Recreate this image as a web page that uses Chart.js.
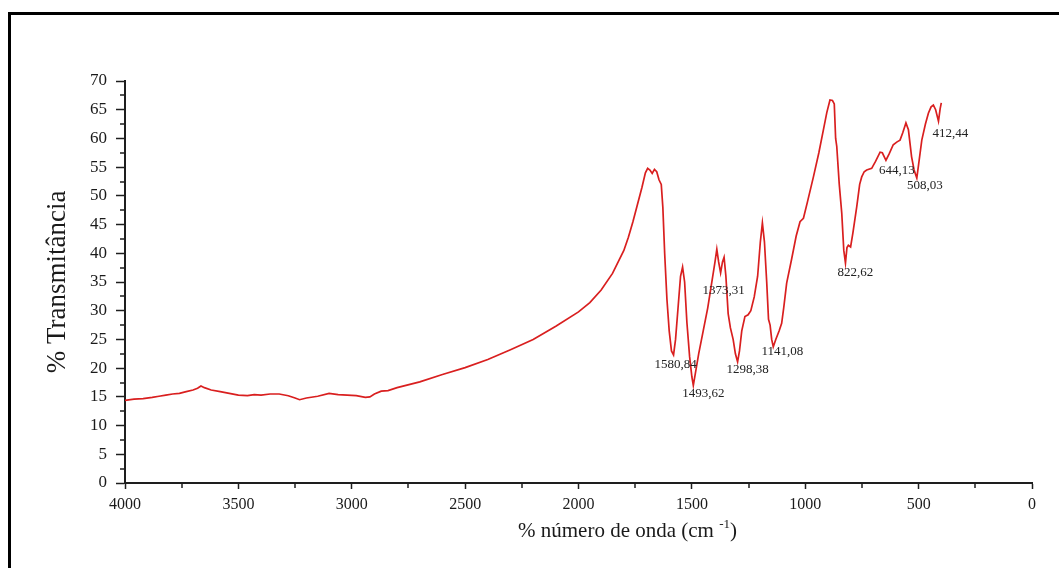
<!DOCTYPE html>
<html>
<head>
<meta charset="utf-8">
<script src="https://cdn.jsdelivr.net/npm/chart.js@4.4.1/dist/chart.umd.min.js"></script>
<style>
  html, body { margin: 0; padding: 0; background: #fff; overflow: hidden; }
  #wrap { position: relative; width: 1059px; height: 568px; overflow: hidden; }
  #frame { position: absolute; left: 8px; top: 12px; width: 1100px; height: 600px;
           border-left: 3px solid #000; border-top: 3px solid #000; }
  canvas { position: absolute; left: 0; top: 0; }
</style>
</head>
<body>
<div id="wrap">
  <div id="frame"></div>
  <canvas id="ftir" width="1059" height="568"></canvas>
</div>
<script>
// FTIR spectrum: wavenumber (cm-1) and % transmittance
const wavenumbers = [
  4000, 3960, 3920, 3880, 3850, 3820, 3790, 3760, 3730, 3700, 3680, 3665, 3650, 3620, 3580,
  3540, 3500, 3460, 3430, 3400, 3360, 3320, 3280, 3250, 3230, 3200, 3150, 3100, 3060, 3020,
  2980, 2940, 2920, 2900, 2870, 2840, 2800, 2700, 2600, 2500, 2400, 2300, 2200, 2100, 2000,
  1950, 1900, 1850, 1800, 1780, 1760, 1740, 1720, 1705, 1695, 1685, 1675, 1665, 1655, 1645,
  1635, 1628, 1620, 1610, 1600, 1590, 1580.84, 1572, 1560, 1550, 1541, 1532, 1522, 1510, 1500,
  1493.62, 1485, 1470, 1450, 1430, 1410, 1398, 1390, 1382, 1373.31, 1365, 1358, 1350, 1340, 1330,
  1318, 1308, 1298.38, 1290, 1280, 1266, 1252, 1240, 1225, 1210, 1198, 1189, 1180, 1170, 1162,
  1155, 1148, 1141.08, 1130, 1115, 1104, 1095, 1082, 1060, 1040, 1023, 1008, 990, 964, 940,
  920, 905, 891, 880, 872, 866, 861, 850, 839, 830, 822.62, 816, 810, 800, 790,
  773, 760, 751, 740, 729, 707, 690, 670, 660, 644.13, 630, 612, 595, 582, 570,
  556, 545, 531, 520, 508.03, 500, 486, 470, 457, 445, 435, 425, 412.44, 405, 400
];
const transmittance = [
  14.4, 14.6, 14.7, 14.9, 15.1, 15.3, 15.5, 15.6, 15.9, 16.2, 16.5, 16.9, 16.6, 16.2, 15.9,
  15.6, 15.3, 15.2, 15.4, 15.3, 15.5, 15.5, 15.2, 14.8, 14.5, 14.8, 15.1, 15.6, 15.4, 15.3,
  15.2, 14.9, 15.0, 15.5, 16.0, 16.1, 16.6, 17.6, 18.9, 20.1, 21.5, 23.2, 25.0, 27.3, 29.8,
  31.4, 33.6, 36.5, 40.5, 42.8, 45.5, 48.5, 51.5, 54.0, 54.8, 54.5, 53.9, 54.6, 54.2, 52.8,
  52.0, 48.0, 40.0, 32.0, 26.5, 23.0, 22.3, 25.0, 31.0, 36.0, 37.6, 35.0, 28.0, 22.0, 18.5,
  17.0, 19.0, 22.5, 26.5, 30.5, 35.5, 38.5, 40.7, 38.5, 36.6, 38.5, 39.3, 36.0, 29.5, 27.0,
  25.0, 22.5, 21.1, 23.0, 26.5, 29.0, 29.3, 30.0, 32.4, 36.0, 42.0, 45.3, 42.0, 35.0, 28.5,
  27.5, 25.0, 23.7, 25.0, 26.5, 27.8, 30.5, 34.8, 39.0, 43.0, 45.5, 46.1, 49.0, 53.3, 57.5,
  61.5, 64.5, 66.7, 66.6, 66.0, 60.0, 58.6, 52.0, 47.0, 40.5, 38.3, 41.0, 41.4, 41.1, 43.5,
  48.1, 52.0, 53.3, 54.2, 54.5, 54.8, 56.0, 57.6, 57.5, 56.2, 57.3, 58.9, 59.4, 59.7, 61.0,
  62.7, 61.5, 56.8, 54.5, 53.1, 55.5, 59.7, 62.5, 64.4, 65.5, 65.8, 65.0, 63.0, 65.2, 66.2
];

// Band positions marked on the spectrum
const peakWavenumbers = [1580.84, 1493.62, 1373.31, 1298.38, 1141.08, 822.62, 644.13, 508.03, 412.44];
const peakLabels = ['1580,84', '1493,62', '1373,31', '1298,38', '1141,08', '822,62', '644,13', '508,03', '412,44'];

// Axis ranges and steps
const xRange = [0, 4000];
const xMajorStep = 500;
const yRange = [0, 70];
const yMajorStep = 5;

const SERIF = '"Liberation Serif", "Times New Roman", serif';
const AXIS_COLOR = '#1e1e1e';

// Minor tick marks halfway between the labelled ticks
const minorTicks = {
  id: 'minorTicks',
  afterDraw(chart) {
    const { ctx, scales: { x, y } } = chart;
    ctx.save();
    ctx.strokeStyle = AXIS_COLOR;
    ctx.lineWidth = 1.5;
    ctx.beginPath();
    for (let v = xRange[0] + xMajorStep / 2; v < xRange[1]; v += xMajorStep) {
      const px = Math.round(x.getPixelForValue(v));
      ctx.moveTo(px, x.top);
      ctx.lineTo(px, x.top + 5);
    }
    for (let v = yRange[0] + yMajorStep / 2; v < yRange[1]; v += yMajorStep) {
      const py = Math.round(y.getPixelForValue(v));
      ctx.moveTo(y.right - 5, py);
      ctx.lineTo(y.right, py);
    }
    ctx.stroke();
    ctx.restore();
  }
};

// Band labels placed just under each marked minimum
const bandLabels = {
  id: 'bandLabels',
  afterDatasetsDraw(chart, args, opts) {
    const { ctx, scales: { x, y } } = chart;
    ctx.save();
    ctx.font = `13px ${SERIF}`;
    ctx.fillStyle = '#222';
    ctx.textAlign = 'center';
    ctx.textBaseline = 'middle';
    peakWavenumbers.forEach((wn, i) => {
      const idx = wavenumbers.indexOf(wn);
      const px = x.getPixelForValue(wn);
      const py = y.getPixelForValue(transmittance[idx]);
      const [dx, dy] = opts.offsets[i];
      ctx.fillText(peakLabels[i], px + dx, py + dy);
    });
    ctx.restore();
  }
};

// x-axis title with superscript exponent
const xAxisTitle = {
  id: 'xAxisTitle',
  afterDraw(chart) {
    const { ctx, scales: { x } } = chart;
    const main = '% número de onda (cm ';
    const sup = '-1';
    const close = ')';
    ctx.save();
    ctx.fillStyle = '#1a1a1a';
    ctx.textBaseline = 'alphabetic';
    ctx.font = `21px ${SERIF}`;
    const wMain = ctx.measureText(main).width;
    const wClose = ctx.measureText(close).width;
    ctx.font = `13px ${SERIF}`;
    const wSup = ctx.measureText(sup).width;
    const total = wMain + wSup + wClose;
    const cx = (x.left + x.right) / 2 + 49;
    let sx = cx - total / 2;
    const base = x.top + 54;
    ctx.font = `21px ${SERIF}`;
    ctx.fillText(main, sx, base);
    sx += wMain;
    ctx.font = `13px ${SERIF}`;
    ctx.fillText(sup, sx, base - 9);
    sx += wSup;
    ctx.font = `21px ${SERIF}`;
    ctx.fillText(close, sx, base);
    ctx.restore();
  }
};

new Chart(document.getElementById('ftir'), {
  type: 'line',
  data: {
    datasets: [{
      data: wavenumbers.map((w, i) => ({ x: w, y: transmittance[i] })),
      borderColor: '#d91f1f',
      borderWidth: 1.7,
      pointRadius: 0,
      tension: 0,
      fill: false
    }]
  },
  options: {
    responsive: false,
    animation: false,
    events: [],
    layout: { padding: { left: 0, top: 81, right: 27, bottom: 0 } },
    plugins: {
      legend: { display: false },
      tooltip: { enabled: false },
      bandLabels: {
        offsets: [[2, 10], [10, 8], [3, 18], [10, 8], [9, 5], [10, 10], [11, 10], [8, 8], [12, 12]]
      }
    },
    scales: {
      x: {
        type: 'linear',
        reverse: true,
        min: xRange[0],
        max: xRange[1],
        afterFit(scale) { scale.height = 85; },
        border: { display: true, color: AXIS_COLOR, width: 2 },
        grid: { drawOnChartArea: false, drawTicks: true, tickLength: 6, color: AXIS_COLOR, tickWidth: 1.5 },
        ticks: {
          stepSize: xMajorStep,
          padding: 6,
          color: '#1a1a1a',
          font: { family: SERIF, size: 16 },
          maxRotation: 0,
          autoSkip: false,
          callback: (v) => String(v)
        }
      },
      y: {
        type: 'linear',
        min: yRange[0],
        max: yRange[1],
        afterFit(scale) { scale.width = 125; },
        border: { display: true, color: AXIS_COLOR, width: 2 },
        grid: { drawOnChartArea: false, drawTicks: true, tickLength: 9, color: AXIS_COLOR, tickWidth: 1.5 },
        ticks: {
          stepSize: yMajorStep,
          padding: 9,
          color: '#1a1a1a',
          font: { family: SERIF, size: 17 },
          autoSkip: false,
          callback: (v) => String(v)
        },
        title: {
          display: true,
          text: '% Transmitância',
          color: '#1a1a1a',
          font: { family: SERIF, size: 27 },
          padding: { top: 42, bottom: 0 }
        }
      }
    }
  },
  plugins: [minorTicks, bandLabels, xAxisTitle]
});
</script>
</body>
</html>
